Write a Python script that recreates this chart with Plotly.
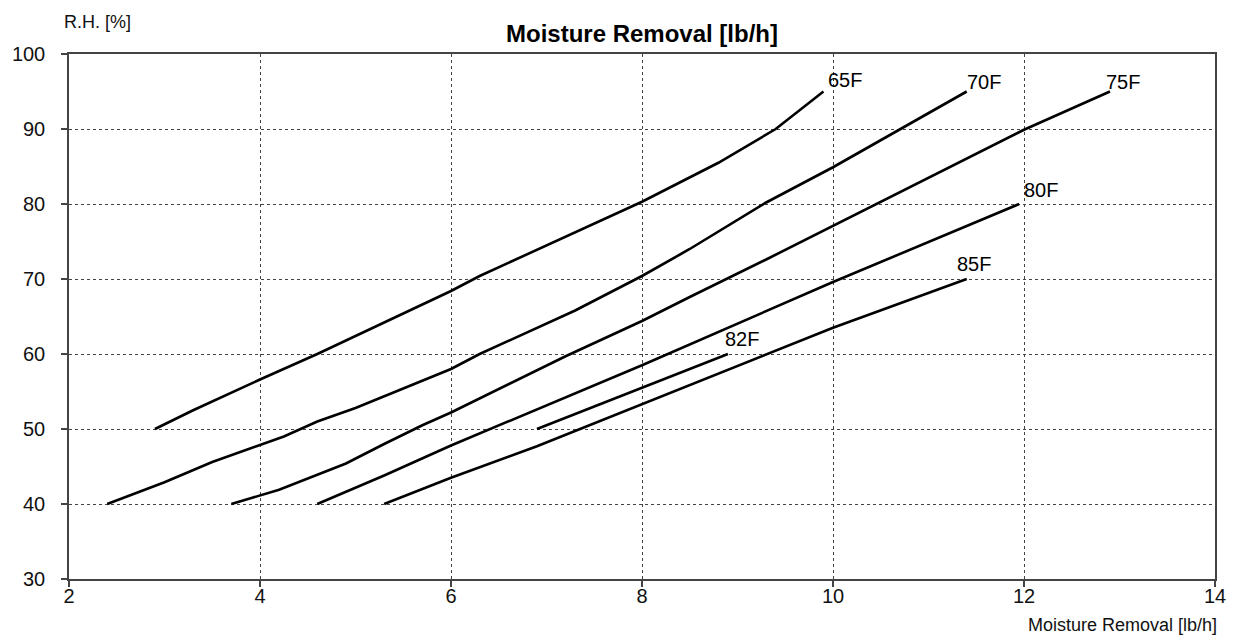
import plotly.graph_objects as go

# ---- data ----
series_names = ["65F", "70F", "75F", "80F", "82F", "85F"]

x65 = [2.9, 3.3, 4.0, 4.6, 5.3, 6.0, 6.3, 7.3, 8.0, 8.8, 9.4, 9.9]
y65 = [50, 52.5, 56.6, 60.0, 64.2, 68.4, 70.4, 76.2, 80.3, 85.5, 90.0, 95.0]

x70 = [2.4, 3.0, 3.5, 4.0, 4.25, 4.6, 5.0, 6.0, 6.3, 7.3, 8.0, 8.5, 9.3, 10.0, 10.7, 11.4]
y70 = [40, 42.9, 45.6, 47.8, 49.0, 51.0, 52.8, 58.0, 60.0, 65.8, 70.4, 74.0, 80.2, 84.9, 90.0, 95.0]

x75 = [3.7, 4.0, 4.2, 4.5, 4.9, 5.3, 5.7, 6.0, 7.2, 8.0, 8.5, 9.3, 10.0, 11.0, 12.0, 12.9]
y75 = [40, 41.2, 41.9, 43.4, 45.4, 48.0, 50.5, 52.2, 59.7, 64.4, 67.6, 72.6, 77.1, 83.5, 89.9, 95.0]

x80 = [4.6, 5.3, 6.0, 8.0, 10.0, 11.95]
y80 = [40, 43.8, 47.8, 58.5, 69.6, 80.0]

x82 = [6.9, 8.0, 8.9]
y82 = [50, 55.5, 60]

x85 = [5.3, 6.0, 6.9, 8.0, 10.0, 11.4]
y85 = [40, 43.5, 47.7, 53.3, 63.5, 70]

x_ticks = [2, 4, 6, 8, 10, 12, 14]
y_ticks = [30, 40, 50, 60, 70, 80, 90, 100]

title_text = "Moisture Removal [lb/h]"
x_title = "Moisture Removal [lb/h]"
y_title = "R.H. [%]"

# ---- style (label pixel offsets from the end of each curve) ----
label_shift = {
    "65F": (3, 12),
    "70F": (-2, 10),
    "75F": (-6, 10),
    "80F": (3, 14),
    "82F": (-5, 15),
    "85F": (-12, 15),
}

xs = [x65, x70, x75, x80, x82, x85]
ys = [y65, y70, y75, y80, y82, y85]

FONT = "Liberation Sans, Arial, sans-serif"

fig = go.Figure()
for name, xv, yv in zip(series_names, xs, ys):
    fig.add_trace(go.Scatter(
        x=xv, y=yv, mode="lines", name=name,
        line=dict(color="black", width=2.6),
        showlegend=False, hoverinfo="x+y+name",
    ))
    dx, dy = label_shift[name]
    fig.add_annotation(
        x=xv[-1], y=yv[-1], xref="x", yref="y",
        text=name, showarrow=False,
        xanchor="left", yanchor="middle",
        xshift=dx, yshift=dy,
        font=dict(family=FONT, size=20, color="black"),
    )

axis_common = dict(
    showline=True, linecolor="#444444", linewidth=1.5, mirror=True,
    showgrid=True, gridcolor="#444444", gridwidth=1, griddash="dot",
    ticks="outside", ticklen=6, tickcolor="#444444", tickwidth=1.5,
    tickfont=dict(family=FONT, size=20, color="#111111"),
    zeroline=False,
)

fig.update_xaxes(range=[2, 14], tickvals=x_ticks, ticktext=[str(v) for v in x_ticks],
                 ticklabelstandoff=-8, **axis_common)
fig.update_yaxes(range=[30, 100], tickvals=y_ticks, ticktext=[str(v) for v in y_ticks],
                 ticklabelstandoff=12, **axis_common)

fig.add_annotation(
    text=y_title, xref="paper", yref="paper", x=0, y=1,
    xanchor="left", yanchor="middle", xshift=-7, yshift=32,
    showarrow=False, font=dict(family=FONT, size=18, color="#111111"),
)
fig.add_annotation(
    text=x_title, xref="paper", yref="paper", x=1, y=0,
    xanchor="right", yanchor="middle", xshift=4, yshift=-46,
    showarrow=False, font=dict(family=FONT, size=18, color="#111111"),
)

fig.update_layout(
    width=1240, height=638,
    margin=dict(l=63, r=25, t=54, b=59),
    paper_bgcolor="white", plot_bgcolor="white",
    title=dict(
        text="<b>" + title_text + "</b>",
        x=0.5, xref="paper", xanchor="center",
        y=1 - 34 / 638, yref="container", yanchor="middle",
        font=dict(family=FONT, size=24, color="black"),
    ),
)

fig.write_html(
    "out.html",
    config={"displayModeBar": False},
    post_script="document.body.style.margin='0';document.body.style.overflow='hidden';",
)
